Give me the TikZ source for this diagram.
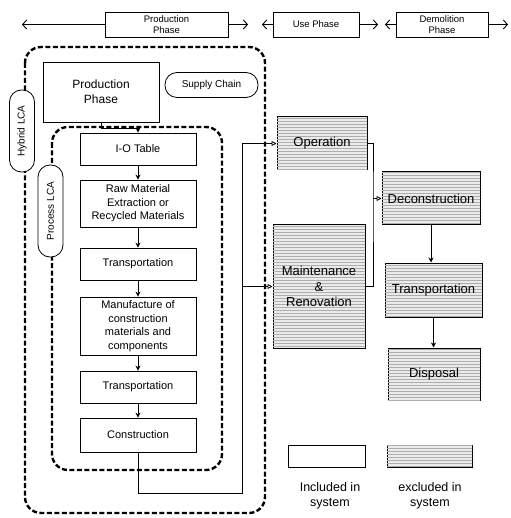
\documentclass[tikz,border=0pt]{standalone}
\usepackage{fontspec}
\setmainfont{Liberation Sans}
\usetikzlibrary{arrows,arrows.meta,positioning,patterns}

\begin{document}
\begin{tikzpicture}
			[x=1pt,y=-1pt,
			box/.style={shape=rectangle,draw,line width=.8pt,fill=white,align=center,
				inner sep=1pt,minimum width=116pt,font=\fontsize{11}{13.5}\selectfont},
			phasebox/.style={shape=rectangle,draw,line width=.8pt,fill=white,align=center,
				inner sep=1pt,minimum height=25pt,font=\fontsize{9.5}{11}\selectfont},
			shaded/.style={shape=rectangle,draw,line width=1pt,align=center,inner sep=1pt,
				fill=black!8,postaction={pattern=horizontal lines,pattern color=black!32},
				font=\fontsize{13}{15.5}\selectfont},
			pill/.style={shape=rectangle,rounded corners=12pt,draw,line width=.8pt,fill=white,
				minimum height=25pt,inner sep=1pt,font=\fontsize{10}{12}\selectfont},
			legend/.style={align=center,font=\fontsize{12.5}{15}\selectfont},
			lca/.style={dash pattern=on 5pt off 2.5pt,line width=2.4pt,rounded corners=16pt},
			arc/.style={-{Stealth[length=5pt,width=5pt]},line width=.8pt},
			openarc/.style={-{Triangle[open,length=5pt,width=5pt]},line width=.8pt},
			barb/.style={-{Straight Barb[length=4pt,width=9pt]},line width=.9pt}]
			\useasboundingbox (0,0) rectangle (510,518);
			
			\draw [lca] (25,47) rectangle (265,513);
			\draw [lca] (52,127) rectangle (222,470);
			
			\node (tp) [phasebox,minimum width=123pt] at (166.5,24.5) {Production\\Phase};
			\node (tu) [phasebox,minimum width=86pt] at (316,24.5) {Use Phase};
			\node (td) [phasebox,minimum width=92pt] at (442,24.5) {Demolition\\Phase};
			
			\coordinate (t0) at (22,24.5);
			\coordinate (t1) at (248,24.5);
			\coordinate (t2) at (262,24.5);
			\coordinate (t3) at (378,24.5);
			\coordinate (t4) at (385,24.5);
			\coordinate (t5) at (508,24.5);
			\draw [barb] (tp.west) -- (t0);
			\draw [barb] (tp.east) -- (t1);
			\draw [barb] (tu.west) -- (t2);
			\draw [barb] (tu.east) -- (t3);
			\draw [barb] (td.west) -- (t4);
			\draw [barb] (td.east) -- (t5);
			
			\node (hybrid) [pill,rotate=90,minimum width=82pt] at (22,131) {Hybrid LCA};
			\node (process) [pill,rotate=90,minimum width=92pt] at (50.5,211) {Process LCA};
			\node (supply) [pill,minimum width=93pt] at (211.5,85) {Supply Chain};
			
			\node (pp) [box,minimum width=116pt,minimum height=60pt,font=\fontsize{12}{15}\selectfont]
				at (101,92) {Production\\Phase};
			
			\node (io) [box,minimum height=32pt] at (138,149) {I-O Table};
			\node (raw) [box,minimum height=47pt] at (138,203.5) {Raw Material\\Extraction or\\Recycled Materials};
			\node (tr1) [box,minimum height=32pt] at (138,264) {Transportation};
			\node (man) [box,minimum height=58pt] at (138,326) {Manufacture of\\construction\\materials and\\components};
			\node (tr2) [box,minimum height=32pt] at (138,387) {Transportation};
			\node (cons) [box,minimum height=34pt] at (138,435) {Construction};
			
			\draw [arc] (pp.south) -- ++(0,6) -| (io.north);
			\draw [arc] (io) -- (raw);
			\draw [arc] (raw) -- (tr1);
			\draw [arc] (tr1) -- (man);
			\draw [arc] (man) -- (tr2);
			\draw [arc] (tr2) -- (cons);
			
			\node (op) [shaded,minimum width=90pt,minimum height=53pt] at (322,143.5) {Operation};
			\node (mr) [shaded,minimum width=92pt,minimum height=123pt] at (319,286.5) {Maintenance\\\&\\Renovation};
			\node (dec) [shaded,minimum width=98pt,minimum height=53pt] at (431,198.5) {Deconstruction};
			\node (trr) [shaded,minimum width=97pt,minimum height=54pt] at (433.5,290) {Transportation};
			\node (dis) [shaded,minimum width=92pt,minimum height=52pt] at (434,374) {Disposal};
			
			\coordinate (jn) at (242,493);
			\coordinate (bus) at (373,198.5);
			\draw [openarc] (cons.south) |- (jn) |- (op.west);
			\draw [openarc] (jn |- mr.west) -- (mr.west);
			\draw (op.east) -| (bus) |- (mr.east);
			\draw [openarc] (bus) -- (dec.west);
			\draw [arc] (dec.south) -- (dec.south |- trr.north);
			\draw [arc] (trr.south) -- (trr.south |- dis.north);
			
			\node (inc) [box,minimum width=77pt,minimum height=22pt] at (326.5,456) {};
			\node (exc) [shaded,minimum width=85pt,minimum height=22pt] at (429.5,456) {};
			\node (inclabel) [legend] at (330,496) {Included in\\system};
			\node (exclabel) [legend] at (430,496) {excluded in\\system};
\end{tikzpicture}
\end{document}
